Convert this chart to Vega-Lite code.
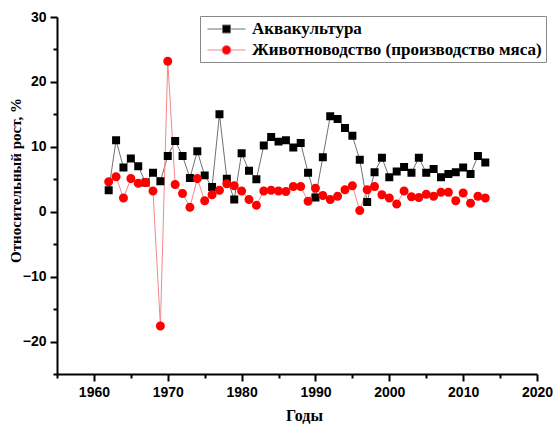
{
  "$schema": "https://vega.github.io/schema/vega-lite/v6.json",
  "width": 480,
  "height": 357,
  "autosize": {"type": "none"},
  "padding": {"left": 57, "top": 17, "right": 18, "bottom": 51},
  "background": "white",
  "config": {"view": {"stroke": null}},
  "data": {"values": [
    {"year":1962,"series":"Аквакультура","value":3.3},
    {"year":1963,"series":"Аквакультура","value":11.0},
    {"year":1964,"series":"Аквакультура","value":6.8},
    {"year":1965,"series":"Аквакультура","value":8.2},
    {"year":1966,"series":"Аквакультура","value":7.0},
    {"year":1967,"series":"Аквакультура","value":4.5},
    {"year":1968,"series":"Аквакультура","value":6.0},
    {"year":1969,"series":"Аквакультура","value":4.7},
    {"year":1970,"series":"Аквакультура","value":8.6},
    {"year":1971,"series":"Аквакультура","value":10.9},
    {"year":1972,"series":"Аквакультура","value":8.6},
    {"year":1973,"series":"Аквакультура","value":5.2},
    {"year":1974,"series":"Аквакультура","value":9.3},
    {"year":1975,"series":"Аквакультура","value":5.6},
    {"year":1976,"series":"Аквакультура","value":3.8},
    {"year":1977,"series":"Аквакультура","value":15.0},
    {"year":1978,"series":"Аквакультура","value":5.1},
    {"year":1979,"series":"Аквакультура","value":1.9},
    {"year":1980,"series":"Аквакультура","value":9.0},
    {"year":1981,"series":"Аквакультура","value":6.3},
    {"year":1982,"series":"Аквакультура","value":5.0},
    {"year":1983,"series":"Аквакультура","value":10.2},
    {"year":1984,"series":"Аквакультура","value":11.5},
    {"year":1985,"series":"Аквакультура","value":10.8},
    {"year":1986,"series":"Аквакультура","value":11.0},
    {"year":1987,"series":"Аквакультура","value":9.9},
    {"year":1988,"series":"Аквакультура","value":10.6},
    {"year":1989,"series":"Аквакультура","value":6.0},
    {"year":1990,"series":"Аквакультура","value":2.2},
    {"year":1991,"series":"Аквакультура","value":8.4},
    {"year":1992,"series":"Аквакультура","value":14.7},
    {"year":1993,"series":"Аквакультура","value":14.3},
    {"year":1994,"series":"Аквакультура","value":12.9},
    {"year":1995,"series":"Аквакультура","value":11.7},
    {"year":1996,"series":"Аквакультура","value":8.0},
    {"year":1997,"series":"Аквакультура","value":1.5},
    {"year":1998,"series":"Аквакультура","value":6.1},
    {"year":1999,"series":"Аквакультура","value":8.3},
    {"year":2000,"series":"Аквакультура","value":5.3},
    {"year":2001,"series":"Аквакультура","value":6.2},
    {"year":2002,"series":"Аквакультура","value":6.9},
    {"year":2003,"series":"Аквакультура","value":6.0},
    {"year":2004,"series":"Аквакультура","value":8.3},
    {"year":2005,"series":"Аквакультура","value":6.0},
    {"year":2006,"series":"Аквакультура","value":6.6},
    {"year":2007,"series":"Аквакультура","value":5.3},
    {"year":2008,"series":"Аквакультура","value":5.8},
    {"year":2009,"series":"Аквакультура","value":6.1},
    {"year":2010,"series":"Аквакультура","value":6.8},
    {"year":2011,"series":"Аквакультура","value":5.8},
    {"year":2012,"series":"Аквакультура","value":8.6},
    {"year":2013,"series":"Аквакультура","value":7.6},
    {"year":1962,"series":"Животноводство (производство мяса)","value":4.6},
    {"year":1963,"series":"Животноводство (производство мяса)","value":5.4},
    {"year":1964,"series":"Животноводство (производство мяса)","value":2.1},
    {"year":1965,"series":"Животноводство (производство мяса)","value":5.1},
    {"year":1966,"series":"Животноводство (производство мяса)","value":4.4},
    {"year":1967,"series":"Животноводство (производство мяса)","value":4.5},
    {"year":1968,"series":"Животноводство (производство мяса)","value":3.2},
    {"year":1969,"series":"Животноводство (производство мяса)","value":-17.6},
    {"year":1970,"series":"Животноводство (производство мяса)","value":23.2},
    {"year":1971,"series":"Животноводство (производство мяса)","value":4.2},
    {"year":1972,"series":"Животноводство (производство мяса)","value":2.8},
    {"year":1973,"series":"Животноводство (производство мяса)","value":0.7},
    {"year":1974,"series":"Животноводство (производство мяса)","value":5.1},
    {"year":1975,"series":"Животноводство (производство мяса)","value":1.7},
    {"year":1976,"series":"Животноводство (производство мяса)","value":2.6},
    {"year":1977,"series":"Животноводство (производство мяса)","value":3.3},
    {"year":1978,"series":"Животноводство (производство мяса)","value":4.3},
    {"year":1979,"series":"Животноводство (производство мяса)","value":4.0},
    {"year":1980,"series":"Животноводство (производство мяса)","value":3.2},
    {"year":1981,"series":"Животноводство (производство мяса)","value":1.9},
    {"year":1982,"series":"Животноводство (производство мяса)","value":1.0},
    {"year":1983,"series":"Животноводство (производство мяса)","value":3.2},
    {"year":1984,"series":"Животноводство (производство мяса)","value":3.3},
    {"year":1985,"series":"Животноводство (производство мяса)","value":3.2},
    {"year":1986,"series":"Животноводство (производство мяса)","value":3.1},
    {"year":1987,"series":"Животноводство (производство мяса)","value":3.9},
    {"year":1988,"series":"Животноводство (производство мяса)","value":3.9},
    {"year":1989,"series":"Животноводство (производство мяса)","value":1.6},
    {"year":1990,"series":"Животноводство (производство мяса)","value":3.6},
    {"year":1991,"series":"Животноводство (производство мяса)","value":2.5},
    {"year":1992,"series":"Животноводство (производство мяса)","value":1.9},
    {"year":1993,"series":"Животноводство (производство мяса)","value":2.4},
    {"year":1994,"series":"Животноводство (производство мяса)","value":3.4},
    {"year":1995,"series":"Животноводство (производство мяса)","value":4.0},
    {"year":1996,"series":"Животноводство (производство мяса)","value":0.2},
    {"year":1997,"series":"Животноводство (производство мяса)","value":3.4},
    {"year":1998,"series":"Животноводство (производство мяса)","value":3.9},
    {"year":1999,"series":"Животноводство (производство мяса)","value":2.6},
    {"year":2000,"series":"Животноводство (производство мяса)","value":2.1},
    {"year":2001,"series":"Животноводство (производство мяса)","value":1.2},
    {"year":2002,"series":"Животноводство (производство мяса)","value":3.2},
    {"year":2003,"series":"Животноводство (производство мяса)","value":2.3},
    {"year":2004,"series":"Животноводство (производство мяса)","value":2.2},
    {"year":2005,"series":"Животноводство (производство мяса)","value":2.7},
    {"year":2006,"series":"Животноводство (производство мяса)","value":2.4},
    {"year":2007,"series":"Животноводство (производство мяса)","value":3.0},
    {"year":2008,"series":"Животноводство (производство мяса)","value":3.0},
    {"year":2009,"series":"Животноводство (производство мяса)","value":1.7},
    {"year":2010,"series":"Животноводство (производство мяса)","value":2.9},
    {"year":2011,"series":"Животноводство (производство мяса)","value":1.3},
    {"year":2012,"series":"Животноводство (производство мяса)","value":2.4},
    {"year":2013,"series":"Животноводство (производство мяса)","value":2.1}
  ]},
  "encoding": {
    "x": {
      "field": "year", "type": "quantitative",
      "scale": {"domain": [1955, 2020], "nice": false, "zero": false},
      "axis": {
        "title": "Годы",
        "values": [1955,1960,1965,1970,1975,1980,1985,1990,1995,2000,2005,2010,2015,2020],
        "labelExpr": "datum.value % 10 === 0 ? datum.label : ''",
        "format": "d",
        "grid": false,
        "domainColor": "black", "domainWidth": 2,
        "tickColor": "black", "tickWidth": 2,
        "tickSize": {"condition": {"test": "datum.value % 10 === 0", "value": 7}, "value": 4},
        "labelFont": "Liberation Sans", "labelFontWeight": "bold", "labelFontSize": 14, "labelColor": "black",
        "labelPadding": 4, "labelFlush": false, "labelOverlap": false,
        "titleFont": "Liberation Serif", "titleFontWeight": "bold", "titleFontSize": 16, "titleColor": "black",
        "titlePadding": 8, "titleX": 247
      }
    },
    "y": {
      "field": "value", "type": "quantitative",
      "scale": {"domain": [-25, 30], "nice": false, "zero": false},
      "axis": {
        "title": "Относительный рост, %",
        "values": [-25,-20,-15,-10,-5,0,5,10,15,20,25,30],
        "labelExpr": "datum.value % 10 === 0 ? datum.label : ''",
        "grid": false,
        "domainColor": "black", "domainWidth": 2,
        "tickColor": "black", "tickWidth": 2,
        "tickSize": {"condition": {"test": "datum.value % 10 === 0", "value": 7}, "value": 4},
        "labelFont": "Liberation Sans", "labelFontWeight": "bold", "labelFontSize": 14, "labelColor": "black",
        "labelPadding": 4, "labelFlush": false, "labelOverlap": false,
        "titleFont": "Liberation Serif", "titleFontWeight": "bold", "titleFontSize": 15, "titleColor": "black",
        "titlePadding": -1, "titleY": 163
      }
    }
  },
  "layer": [
    {
      "mark": {"type": "line", "strokeWidth": 1},
      "encoding": {
        "stroke": {
          "field": "series", "type": "nominal",
          "scale": {"domain": ["Аквакультура", "Животноводство (производство мяса)"], "range": ["#707070", "#f08a8a"]}
        }
      }
    },
    {
      "mark": {"type": "point", "filled": true, "opacity": 1, "size": 289, "strokeWidth": 0},
      "encoding": {
        "color": {
          "field": "series", "type": "nominal",
          "scale": {"domain": ["Аквакультура", "Животноводство (производство мяса)"], "range": ["#000000", "#ff0000"]},
          "legend": {
            "title": null,
            "orient": "none",
            "legendX": 143,
            "legendY": -1,
            "strokeColor": "#888888",
            "fillColor": "white",
            "padding": 4,
            "rowPadding": 4,
            "symbolSize": 289,
            "symbolOffset": 13.5,
            "labelOffset": 16.5,
            "labelFont": "Liberation Serif",
            "labelFontWeight": "bold",
            "labelFontSize": 17,
            "labelColor": "black",
            "labelLimit": 400,
            "symbolStrokeWidth": 1
          }
        },
        "shape": {
          "field": "series", "type": "nominal",
          "scale": {
            "domain": ["Аквакультура", "Животноводство (производство мяса)"],
            "range": [
              "M-2.24,0H-0.47M0.47,0H2.24M-0.47,-0.47H0.47V0.47H-0.47Z",
              "M-2.24,0H-0.53M0.53,0H2.24M0.53,0A0.53,0.53 0 1,1 -0.53,0A0.53,0.53 0 1,1 0.53,0Z"
            ]
          }
        }
      }
    }
  ]
}
